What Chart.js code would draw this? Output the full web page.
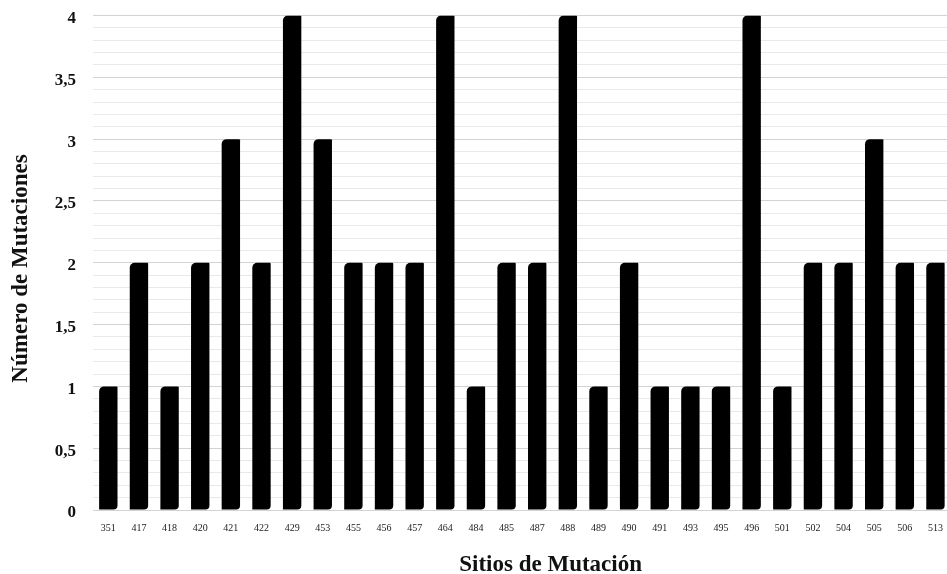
<!DOCTYPE html>
<html>
<head>
<meta charset="utf-8">
<script src="https://cdn.jsdelivr.net/npm/chart.js@4"></script>
<style>
  html, body { margin: 0; padding: 0; background: #fff; overflow: hidden; }
  #wrap { width: 955px; height: 590px; margin-top: -10px; }
</style>
</head>
<body>
<div id="wrap"><canvas id="chart" width="955" height="590"></canvas></div>
<script>
const sitios = ['351', '417', '418', '420', '421', '422', '429', '453', '455', '456', '457', '464', '484', '485',
    '487', '488', '489', '490', '491', '493', '495', '496', '501', '502', '504', '505', '506', '513'];
const mutaciones = [1, 2, 1, 2, 3, 2, 4, 3, 2, 2, 2, 4, 1, 2, 2, 4, 1, 2, 1, 1, 1, 4, 1, 2, 2, 3, 2, 2];
const yMin = 0;
const yMax = 4;

const serif = '"Liberation Serif", "Times New Roman", serif';

// etiqueta del eje Y con coma decimal, solo cada 0,5
function etiquetaY(value) {
    const v = Math.round(value * 10) / 10;
    if (Math.round(v * 10) % 5 !== 0) return '';
    return String(v).replace('.', ',');
}

new Chart(document.getElementById('chart'), {
    type: 'bar',
    data: {
        labels: sitios,
        datasets: [{
            data: mutaciones,
            backgroundColor: '#000',
            borderWidth: 0,
            borderSkipped: false,
            borderRadius: { topLeft: 5, topRight: 1, bottomLeft: 0, bottomRight: 4 },
            barPercentage: 0.6,
            categoryPercentage: 1
        }]
    },
    options: {
        responsive: false,
        animation: false,
        layout: { padding: { top: 0, right: 2, left: 0, bottom: 0 } },
        plugins: { legend: { display: false }, tooltip: { enabled: false } },
        scales: {
            x: {
                grid: { display: false, drawTicks: false },
                border: { display: false },
                ticks: {
                    color: '#222',
                    font: { family: serif, size: 10 },
                    padding: 12,
                    autoSkip: false,
                    maxRotation: 0
                },
                title: {
                    display: true,
                    // espacios delante para correr el título a la derecha como en el original
                    text: '\u2003\u2003\u2002Sitios de Mutación',
                    color: '#111',
                    font: { family: serif, size: 23, weight: 'bold', lineHeight: 1.3 },
                    padding: { top: 22, bottom: 0 }
                },
                afterFit(scale) { scale.height = 70; }
            },
            y: {
                min: yMin,
                max: yMax,
                grid: {
                    drawTicks: false,
                    color: ctx => (Math.round(ctx.tick.value * 10) % 5 === 0 ? '#d3d3d3' : '#e9e9e9'),
                    lineWidth: 1
                },
                border: { display: false },
                ticks: {
                    stepSize: 0.1,
                    autoSkip: false,
                    color: '#111',
                    font: { family: serif, size: 17, weight: 'bold', lineHeight: 1 },
                    padding: 17,
                    labelOffset: 3,
                    callback: etiquetaY
                },
                title: {
                    display: true,
                    text: 'Número de Mutaciones\u2002',
                    color: '#111',
                    font: { family: serif, size: 23, weight: 'bold', lineHeight: 1.2 },
                    padding: { top: 7, bottom: 0 }
                },
                afterFit(scale) { scale.width = 93; }
            }
        }
    }
});
</script>
</body>
</html>
